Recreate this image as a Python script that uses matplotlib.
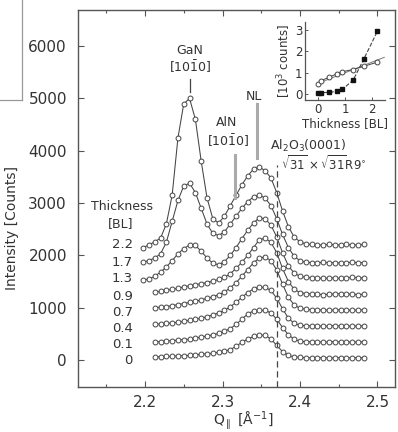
import numpy as np
import matplotlib
matplotlib.use("Agg")
import matplotlib.pyplot as plt
from matplotlib.lines import Line2D
from matplotlib.ticker import MultipleLocator

W, H = 398, 432
nan = np.nan

# ---------------- data ----------------
Q = [2.1975, 2.205, 2.2125, 2.22, 2.2275, 2.235, 2.2425, 2.25, 2.2575, 2.265,
     2.2725, 2.28, 2.2875, 2.295, 2.3025, 2.31, 2.3175, 2.325, 2.3325, 2.34,
     2.3475, 2.355, 2.3625, 2.37, 2.3775, 2.385, 2.3925, 2.4, 2.4075, 2.415,
     2.4225, 2.43, 2.4375, 2.445, 2.4525, 2.46, 2.4675, 2.475, 2.4825]

thickness_labels = ["2.2", "1.7", "1.3", "0.9", "0.7", "0.4", "0.1", "0"]

I_22 = [2150, 2200, 2260, 2330, 2600, 3150, 4250, 4900, 5000, 4600,
        3800, 3100, 2700, 2620, 2750, 2950, 3150, 3350, 3520, 3650,
        3690, 3620, 3480, 3200, 2850, 2550, 2350, 2260, 2220, 2210,
        2200, 2200, 2210, 2200, 2200, 2210, 2200, 2200, 2210]
I_17 = [1870, 1900, 1950, 2030, 2250, 2650, 3050, 3330, 3380, 3200,
        2900, 2600, 2420, 2380, 2450, 2600, 2750, 2900, 3030, 3120,
        3150, 3100, 2950, 2700, 2400, 2150, 1980, 1900, 1870, 1860,
        1860, 1870, 1860, 1860, 1850, 1860, 1870, 1860, 1860]
I_13 = [1530, 1550, 1600, 1680, 1780, 1900, 2030, 2130, 2200, 2190,
        2080, 1950, 1850, 1820, 1880, 2000, 2150, 2320, 2480, 2620,
        2720, 2700, 2580, 2350, 2050, 1800, 1660, 1600, 1580, 1570,
        1570, 1560, 1570, 1570, 1560, 1570, 1580, 1570, 1570]
I_09 = [nan, nan, 1300, 1310, 1330, 1350, 1370, 1400, 1420, 1440,
        1460, 1480, 1510, 1540, 1580, 1650, 1750, 1870, 2000, 2150,
        2300, 2330, 2250, 2050, 1750, 1500, 1350, 1290, 1270, 1260,
        1260, 1250, 1260, 1260, 1270, 1260, 1260, 1250, 1260]
I_07 = [nan, nan, 1000, 1010, 1020, 1040, 1060, 1080, 1100, 1120,
        1150, 1180, 1210, 1250, 1300, 1380, 1480, 1600, 1730, 1860,
        1950, 1970, 1900, 1720, 1450, 1200, 1050, 990, 970, 960,
        955, 960, 950, 955, 960, 955, 950, 955, 960]
I_04 = [nan, nan, 680, 690, 700, 710, 720, 740, 760, 780,
        800, 830, 860, 900, 950, 1020, 1100, 1200, 1290, 1360,
        1390, 1390, 1330, 1180, 980, 800, 700, 665, 655, 650,
        650, 645, 650, 655, 650, 645, 650, 650, 655]
I_01 = [nan, nan, 345, 350, 360, 370, 380, 390, 400, 420,
        440, 460, 480, 510, 550, 600, 680, 780, 880, 940,
        950, 950, 900, 780, 620, 480, 400, 360, 350, 345,
        345, 340, 345, 350, 345, 340, 345, 345, 350]
I_00 = [nan, nan, 60, 60, 70, 70, 80, 80, 90, 100,
        110, 120, 130, 150, 170, 200, 260, 340, 400, 450,
        480, 470, 400, 280, 160, 90, 60, 50, 45, 40,
        40, 45, 40, 40, 45, 40, 40, 45, 40]
curves = [I_22, I_17, I_13, I_09, I_07, I_04, I_01, I_00]

substrate_Q = 2.370          # Al2O3 reflection position
dash_top = 3730              # upper end of the dashed marker (counts)

# inset data (10^3 counts)
inset_thick = [0, 0.1, 0.4, 0.7, 0.9, 1.3, 1.7, 2.2]
inset_gan = [0.05, 0.06, 0.08, 0.12, 0.22, 0.65, 1.65, 2.95]
inset_nl = [0.45, 0.62, 0.78, 0.95, 1.05, 1.15, 1.3, 1.5]
inset_fit_x = [0.0, 2.45]
inset_fit_y = [0.5, 1.72]

# ---------------- figure ----------------
plt.rcParams['font.family'] = ['DejaVu Sans']
fig = plt.figure(figsize=(W / 100, H / 100), dpi=100)
fig.patch.set_facecolor('white')

def px(x, y):
    return x / W, 1 - y / H

spc = '#555555'
txt = '#333333'
lc = '#444444'

ax = fig.add_axes([78 / W, 1 - 387 / H, (395 - 78) / W, (387 - 10) / H])
ax.set_xlim(2.1135, 2.5226)
ax.set_ylim(-516, 6692)

for I in curves:
    ax.plot(Q, I, '-', color=lc, lw=0.75, marker='o', ms=3.5, mfc='white',
            mec=lc, mew=0.7)

ax.plot([substrate_Q, substrate_Q], [-516, dash_top], color=lc, lw=0.9,
        ls=(0, (5, 3)))

for s in ax.spines.values():
    s.set_color(spc)
    s.set_linewidth(1.0)
ax.xaxis.set_minor_locator(MultipleLocator(0.05))
ax.set_yticks([0, 1000, 2000, 3000, 4000, 5000, 6000])
ax.set_xticks([2.2, 2.3, 2.4, 2.5])
ax.set_xticklabels(['2.2', '2.3', '2.4', '2.5'])
ax.tick_params(which='both', direction='in', top=True, right=True, colors=spc,
               labelcolor=txt, labelsize=11)
ax.tick_params(which='major', length=4, width=0.8)
ax.tick_params(which='minor', length=2.5, width=0.8)
ax.tick_params(axis='y', pad=8)
ax.tick_params(axis='x', pad=6)

# labels
fig.text(*px(243, 421), r'Q$_{\parallel}$ [Å$^{-1}$]', ha='center', va='center',
         fontsize=10, color=txt)
fig.text(*px(12, 228), 'Intensity [Counts]', ha='center', va='center',
         rotation=90, fontsize=10, color=txt)

# annotations
fig.text(*px(190, 50), 'GaN', ha='center', va='center', fontsize=9, color=txt)
fig.text(*px(190, 67), r'[10$\bar{1}$0]', ha='center', va='center', fontsize=9, color=txt)
fig.add_artist(Line2D([190 / W, 190 / W], [1 - 79 / H, 1 - 92 / H], color=lc, lw=0.9))

fig.text(*px(227, 123), 'AlN', ha='center', va='center', fontsize=9, color=txt)
fig.text(*px(228, 141), r'[10$\bar{1}$0]', ha='center', va='center', fontsize=9, color=txt)
fig.add_artist(Line2D([235 / W, 235 / W], [1 - 155 / H, 1 - 198 / H], color='#aaaaaa', lw=2.2))

fig.text(*px(254, 97), 'NL', ha='center', va='center', fontsize=9, color=txt)
fig.add_artist(Line2D([257 / W, 257 / W], [1 - 104 / H, 1 - 158 / H], color='#aaaaaa', lw=2.2))

fig.text(*px(270, 146), r'Al$_2$O$_3$(0001)', ha='left', va='center', fontsize=9, color=txt)
fig.text(*px(281, 164), r'$\sqrt{31}\times\sqrt{31}$R9$^{\circ}$', ha='left', va='center',
         fontsize=8.5, color=txt)

fig.text(*px(122, 206), 'Thickness', ha='center', va='center', fontsize=9, color=txt)
fig.text(*px(121, 224), '[BL]', ha='center', va='center', fontsize=9, color=txt)
label_y = [245, 262, 279, 296, 312, 328, 344, 360]
for lab, yy in zip(thickness_labels, label_y):
    if lab == '0':
        fig.text(*px(128, yy), lab, ha='center', va='center', fontsize=9.5, color=txt)
    else:
        fig.text(*px(133, yy), lab, ha='right', va='center', fontsize=9.5, color=txt)

# corner fragment
fig.add_artist(Line2D([22 / W, 22 / W], [1.0, 1 - 100 / H], color='#999999', lw=0.9))
fig.add_artist(Line2D([0, 22 / W], [1 - 100 / H, 1 - 100 / H], color='#999999', lw=0.9))

# ---------------- inset ----------------
axi = fig.add_axes([305 / W, 1 - 100 / H, (385 - 305) / W, (100 - 22) / H])
axi.set_xlim(-0.48, 2.48)
axi.set_ylim(-0.28, 3.38)
axi.plot(inset_fit_x, inset_fit_y, '-', color='#888888', lw=0.8)
axi.plot(inset_thick, inset_nl, '-', color=lc, lw=0.7, marker='o', ms=3.5,
         mfc='white', mec=lc, mew=0.7)
axi.plot(inset_thick, inset_gan, '--', color=lc, lw=0.8, marker='s', ms=3.2,
         mfc='#111111', mec='#111111')
for s in axi.spines.values():
    s.set_color(spc)
    s.set_linewidth(0.9)
axi.spines['top'].set_visible(False)
axi.spines['right'].set_visible(False)
axi.set_xticks([0, 1, 2])
axi.set_yticks([0, 1, 2, 3])
axi.tick_params(direction='in', length=2.5, width=0.7, colors=spc, labelcolor=txt,
                labelsize=8.5, pad=2)
axi.set_xlabel('Thickness [BL]', fontsize=8.5, color=txt, labelpad=1)
axi.set_ylabel(r'[10$^3$ counts]', fontsize=8.5, color=txt, labelpad=1)

fig.savefig('out.png', dpi=100, facecolor='white')
